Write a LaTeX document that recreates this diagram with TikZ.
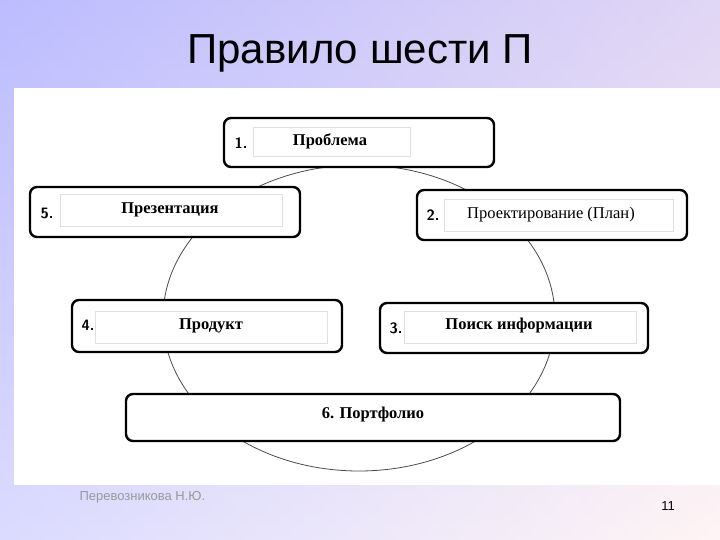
\documentclass[tikz,border=0pt]{standalone}
\usepackage{fontspec}
\setmainfont{Liberation Serif}
\newfontfamily\titlefont{Liberation Sans}
\begin{document}
\begin{tikzpicture}[x=1pt,y=-1pt,
  outer/.style={draw=black,line width=2.4pt,rounded corners=7pt,fill=white},
  inner/.style={draw=black!12,line width=0.6pt,fill=white},
  lbl/.style={font=\fontsize{16.5}{18}\selectfont\bfseries},
  num/.style={font=\fontsize{15}{17}\selectfont\bfseries\sffamily}]
\useasboundingbox (0,0) rectangle (720,540);
\shade[left color=blue!35!white,right color=red!10!white] (0,0) rectangle (720,540);
\shade[top color=blue!20!white,bottom color=white,opacity=0.6] (0,0) rectangle (720,540);
\fill[white] (14,88) rectangle (720,485);
\node[font=\titlefont\fontsize{42}{46}\selectfont] (title) at (360,53) {Правило шести П};
\draw[black!70,line width=0.8pt] (359,318) ellipse [x radius=196, y radius=153];
% boxes
\draw[outer] (224,118) rectangle (494,167);
\draw[inner] (253,127) rectangle (410,156);
\node[num] (n1) at (241,143) {1.};
\node[lbl] (b1) at (330,141) {Проблема};
\draw[outer] (30,187) rectangle (300,237);
\draw[inner] (60,194) rectangle (282,226);
\node[num] (n5) at (47,213) {5.};
\node[lbl] (b5) at (170,210) {Презентация};
\draw[outer] (417,190) rectangle (687,240);
\draw[inner] (444,199) rectangle (673,231);
\node[num] (n2) at (433,215) {2.};
\node[font=\fontsize{16.5}{18}\selectfont] (b2) at (551,215) {Проектирование (План)};
\draw[outer] (72,300) rectangle (342,352);
\draw[inner] (95,311) rectangle (327,343);
\node[num] (n4) at (88,325) {4.};
\node[lbl] (b4) at (211,326) {Продукт};
\draw[outer] (380,303) rectangle (648,353);
\draw[inner] (404,311) rectangle (636,343);
\node[num] (n3) at (396,328) {3.};
\node[lbl] (b3) at (519,326) {Поиск информации};
\draw[outer] (126,394) rectangle (620,441);
\node[lbl] (b6) at (373,415) {6. Портфолио};
\node[font=\titlefont\fontsize{13}{15}\selectfont,text=black!40,anchor=west] (auth) at (76,497) {Перевозникова Н.Ю.};
\node[font=\titlefont\fontsize{13}{15}\selectfont] (pg) at (668,506) {11};
\end{tikzpicture}
\end{document}
